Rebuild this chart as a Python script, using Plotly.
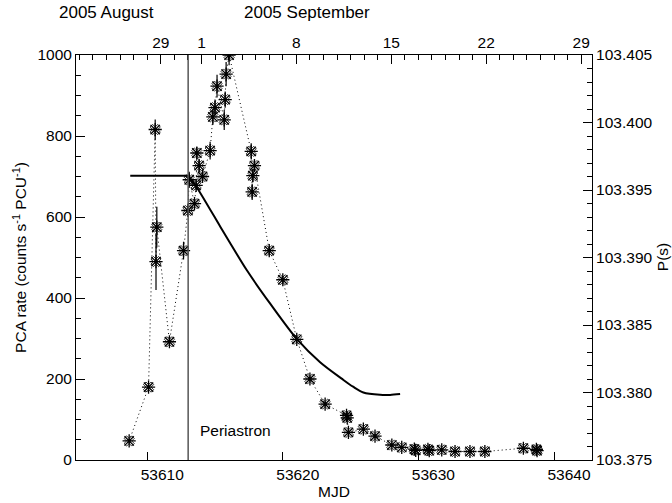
import plotly.graph_objects as go

# ---- PCA light curve (MJD, rate, error) ----
mjd = [53608.67, 53610.10, 53610.59, 53610.65, 53610.71, 53611.64, 53612.68,
       53613.00, 53613.10, 53613.49, 53613.61, 53613.66, 53613.83, 53614.08,
       53614.64, 53614.84, 53615.00, 53615.15, 53615.68, 53615.75, 53615.82,
       53616.04, 53617.67, 53617.74, 53617.79, 53617.91, 53619.00, 53620.00,
       53621.03, 53622.00, 53623.12, 53624.70, 53624.75, 53624.84, 53625.94,
       53626.80, 53628.04, 53628.77, 53629.70, 53629.80, 53630.70, 53630.80,
       53631.72, 53632.70, 53633.80, 53634.90, 53637.74, 53638.70, 53638.75]
rate = [47, 180, 816, 490, 575, 292, 517,
        616, 692, 633, 678, 758, 727, 700,
        764, 847, 870, 923, 840, 890, 953,
        1000, 762, 662, 702, 727, 517, 445,
        298, 200, 138, 110, 104, 68, 76,
        59, 37, 31, 27, 24, 26, 23,
        25, 21, 21, 21, 29, 26, 23]
rate_err = [6, 8, 25, 70, 50, 8, 22,
            12, 20, 12, 12, 15, 15, 12,
            22, 20, 20, 28, 25, 20, 30,
            25, 20, 20, 15, 15, 12, 10,
            8, 6, 6, 8, 8, 6, 5,
            5, 4, 4, 4, 4, 4, 4,
            4, 4, 4, 4, 4, 4, 4]

# ---- Pulse period model (MJD, P in s) ----
p_flat_mjd = [53608.75, 53613.02]
p_flat_sec = [103.39606, 103.39606]
p_mjd = [53613.02, 53613.66, 53615.38, 53615.99, 53617.35, 53619.07,
         53621.03, 53622.75, 53624.47, 53625.18, 53625.94, 53627.17, 53627.91,
         53628.65]
p_sec = [103.39606, 103.39519, 103.39230, 103.39128, 103.38905,
         103.38658, 103.38397, 103.38224, 103.38093, 103.38043, 103.38000,
         103.37983, 103.37982, 103.37988]

periastron_mjd = 53613.02

bottom_ticks = [53610, 53620, 53630, 53640]
top_tick_mjd = [53611, 53614, 53621, 53628, 53635, 53642]
top_tick_text = ["29", "1", "8", "15", "22", "29"]
left_ticks = [0, 200, 400, 600, 800, 1000]

XR = [53604.75, 53642.8]
FONT = "Liberation Sans, Arial, sans-serif"
FS = 15.5

fig = go.Figure()

fig.add_trace(go.Scatter(
    x=mjd, y=rate, mode="lines",
    line=dict(color="black", width=1, dash="1px,3px"),
    hoverinfo="skip", showlegend=False))

fig.add_trace(go.Scatter(
    x=mjd, y=rate, mode="markers",
    marker=dict(symbol="asterisk-open", size=11, color="black",
                line=dict(color="black", width=1.3)),
    error_y=dict(type="data", array=rate_err, width=0, thickness=1.2,
                 color="black"),
    showlegend=False))

fig.add_trace(go.Scatter(
    x=mjd, y=rate, mode="markers",
    marker=dict(symbol="x-open", size=9, color="black",
                line=dict(color="black", width=0.8)),
    hoverinfo="skip", showlegend=False))

fig.add_trace(go.Scatter(
    x=p_flat_mjd, y=p_flat_sec, mode="lines", yaxis="y2",
    line=dict(color="black", width=2),
    showlegend=False))
fig.add_trace(go.Scatter(
    x=p_mjd, y=p_sec, mode="lines", yaxis="y2",
    line=dict(color="black", width=2, shape="spline", smoothing=0.8),
    showlegend=False))

# dummy trace to activate top axis
fig.add_trace(go.Scatter(x=[XR[0]], y=[0], xaxis="x2", mode="markers",
                         marker=dict(opacity=0), showlegend=False,
                         hoverinfo="skip"))

fig.add_shape(type="line", xref="x", yref="paper",
              x0=periastron_mjd, x1=periastron_mjd, y0=0, y1=1,
              line=dict(color="#555555", width=1.5))

fig.add_annotation(x=53613.76, y=74, xref="x", yref="y", text="Periastron",
                   showarrow=False, xanchor="left", yanchor="middle",
                   font=dict(family=FONT, size=FS, color="black"))
fig.add_annotation(x=0.06, y=1.106, xref="paper", yref="paper",
                   text="2005 August", showarrow=False,
                   xanchor="center", yanchor="middle",
                   font=dict(family=FONT, size=17, color="black"))
fig.add_annotation(x=0.448, y=1.106, xref="paper", yref="paper",
                   text="2005 September", showarrow=False,
                   xanchor="center", yanchor="middle",
                   font=dict(family=FONT, size=17, color="black"))
fig.add_annotation(x=1.137, y=0.5, xref="paper", yref="paper",
                   text="P(s)", showarrow=False, textangle=-90,
                   xanchor="center", yanchor="middle",
                   font=dict(family=FONT, size=FS, color="black"))

axis_common = dict(showgrid=False, zeroline=False, showline=True,
                   linecolor="black", linewidth=1, ticks="inside",
                   automargin=False,
                   tickcolor="black", tickfont=dict(family=FONT, size=FS, color="black"))

fig.update_layout(
    width=672, height=503,
    margin=dict(l=76, r=80, t=55, b=43),
    plot_bgcolor="white", paper_bgcolor="white",
    font=dict(family=FONT, size=FS, color="black"),
    xaxis=dict(range=XR, tickvals=bottom_ticks, tickformat="d", ticklen=8,
               ticklabelshift=15,
               title=dict(text="MJD", standoff=2,
                          font=dict(family=FONT, size=FS)),
               **axis_common),
    xaxis2=dict(range=XR, overlaying="x", side="top", tickvals=top_tick_mjd,
                ticktext=top_tick_text, ticklen=9,
                minor=dict(dtick=1, tick0=53611, ticklen=5, ticks="inside",
                           tickcolor="black"),
                **axis_common),
    yaxis=dict(range=[0, 1000], tickvals=left_ticks, ticklen=9,
               minor=dict(dtick=50, ticklen=5, ticks="inside", tickcolor="black"),
               title=dict(text="PCA rate (counts s<sup>-1</sup> PCU<sup>-1</sup>)",
                          font=dict(family=FONT, size=FS), standoff=6),
               **axis_common),
    yaxis2=dict(range=[103.375, 103.405], overlaying="y", side="right",
                tick0=103.375, dtick=0.005, tickformat=".3f", ticklen=9,
                minor=dict(dtick=0.001, ticklen=5, ticks="inside", tickcolor="black"),
                **axis_common),
)

fig.write_html("out.html",
               config={"displayModeBar": False},
               post_script="document.body.style.margin='0';"
                           "document.body.style.overflow='hidden';")
